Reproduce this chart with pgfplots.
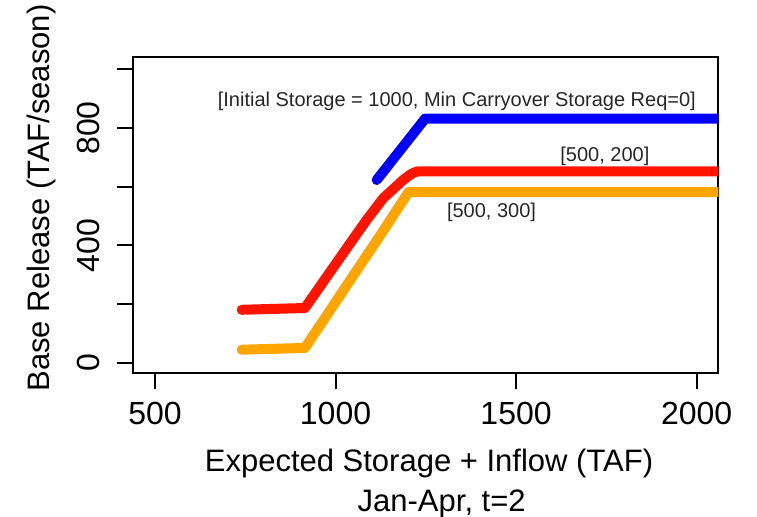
\documentclass[border=0pt]{standalone}
\usepackage{pgfplots}
\pgfplotsset{compat=1.18}
\usepackage{fontspec}
\setmainfont{Liberation Sans}
\definecolor{rorange}{HTML}{FFA500}
\definecolor{rred}{HTML}{FF1400}
\begin{document}
\begin{tikzpicture}
\begin{axis}[
    name=ax,
    scale only axis,
    width=292.5pt, height=158.1pt,
    xmin=440, xmax=2060,
    ymin=-36, ymax=1041,
    xtick={500,1000,1500,2000},
    ytick={0,200,400,600,800,1000},
    yticklabels={0,{},400,{},800,{}},
    xtick pos=bottom, ytick pos=left,
    tick align=outside,
    major tick length=8pt,
    every tick/.style={black, line width=1pt},
    axis line style={line width=1pt},
    tick label style={font=\fontsize{16}{19}\selectfont},
    /pgf/number format/assume math mode=true,
    /pgf/number format/set thousands separator={},
    xticklabel style={anchor=north, inner sep=0pt},
    yticklabel style={rotate=90, anchor=south, inner sep=0pt},
    xticklabel shift=6pt,
    yticklabel shift=8.7pt,
    clip mode=individual,
  ]
  % [500, 200]
  \addplot[draw=rred, line width=5pt, line cap=round, line join=round] coordinates {
    (740,181) (915,187) (1031,391) (1086,487) (1132,561)
    (1187,623) (1210,644) (1225,652) (2060,652)
  };
  % [500, 300]
  \addplot[draw=rorange, line width=5pt, line cap=round, line join=round] coordinates {
    (740,45) (915,51) (1132,450) (1202,582) (2060,582)
  };
  % [1000, 0]
  \addplot[draw=blue, line width=5pt, line cap=round, line join=round] coordinates {
    (1114,623) (1248,832) (2060,832)
  };
  \node[anchor=base, text=black!85, font=\fontsize{10}{12}\selectfont] at (axis cs:1336,873)
    {[Initial Storage = 1000, Min Carryover Storage Req=0]};
  \node[anchor=base, text=black!85, font=\fontsize{10}{12}\selectfont] at (axis cs:1746,686) {[500, 200]};
  \node[anchor=base, text=black!85, font=\fontsize{10}{12}\selectfont] at (axis cs:1432,494) {[500, 300]};
\end{axis}
\node[rotate=90, anchor=base, font=\fontsize{15.5}{18}\selectfont]
  at ([xshift=-42pt, yshift=87.75pt]ax.south west) {Base Release (TAF/season)};
\node[anchor=base, font=\fontsize{15.5}{18}\selectfont]
  at ([xshift=147.85pt, yshift=-49.1pt]ax.south west) {Expected Storage + Inflow (TAF)};
\node[anchor=base, font=\fontsize{15.5}{18}\selectfont]
  at ([xshift=154.2pt, yshift=-69.1pt]ax.south west) {Jan-Apr, t=2};
\pgfresetboundingbox
\path[use as bounding box] ([xshift=-66.65pt, yshift=-71.75pt]ax.south west)
  rectangle ([xshift=311.85pt, yshift=186.75pt]ax.south west);
\end{tikzpicture}
\end{document}
